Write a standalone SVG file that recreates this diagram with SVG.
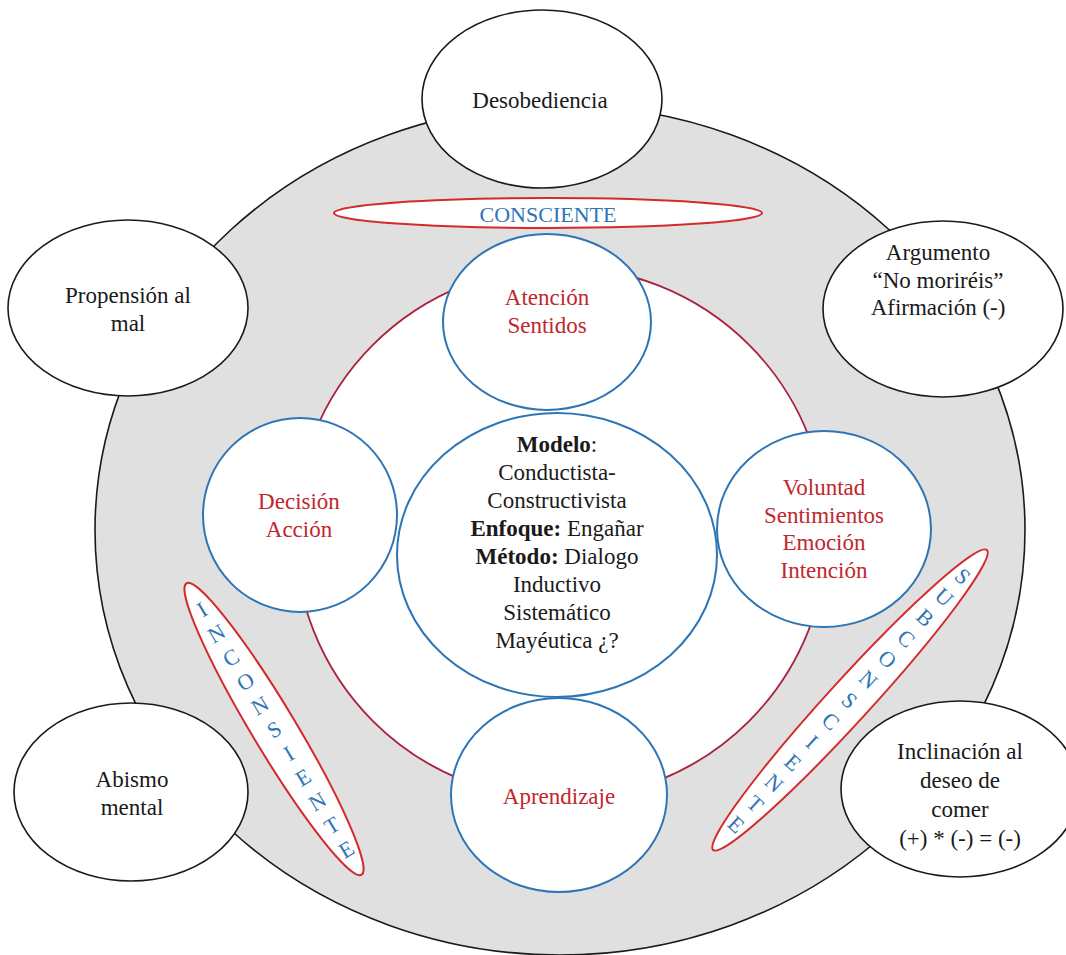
<svg xmlns="http://www.w3.org/2000/svg" width="1066" height="955" viewBox="0 0 1066 955">
<style>
.t{font-family:"Liberation Serif","Times New Roman",serif;font-size:23px;text-anchor:middle;fill:#1a1a1a}
.r{fill:#C0272D}
.b{fill:#2E75B6}
.blk{fill:#fff;stroke:#1a1a1a;stroke-width:1.6}
.blu{fill:#fff;stroke:#2E75B6;stroke-width:2}
.red{fill:#fff;stroke:#D42A2A;stroke-width:2}
.v{font-family:"Liberation Serif","Times New Roman",serif;font-size:22px;text-anchor:middle;fill:#2E75B6}
</style>
<rect width="1066" height="955" fill="#fff"/>
<g id="outer">
<ellipse cx="560" cy="530" rx="465" ry="425" fill="#E0E0E0" stroke="#1a1a1a" stroke-width="1.6"/>
</g>
<g id="inner-ring">
<circle cx="561" cy="533" r="266" fill="#fff" stroke="#A8223C" stroke-width="1.8"/>
</g>
<g id="desobediencia">
<ellipse class="blk" cx="542" cy="99" rx="120" ry="89"/>
<text class="t" x="540" y="108">Desobediencia</text>
</g>
<g id="propension">
<ellipse class="blk" cx="128" cy="308" rx="120" ry="88"/>
<text class="t" x="128" y="303">Propensión al</text>
<text class="t" x="128" y="331">mal</text>
</g>
<g id="argumento">
<ellipse class="blk" cx="943" cy="309" rx="120" ry="88"/>
<text class="t" x="938" y="260">Argumento</text>
<text class="t" x="938" y="288">“No moriréis”</text>
<text class="t" x="938" y="315">Afirmación (-)</text>
</g>
<g id="abismo">
<ellipse class="blk" cx="131" cy="792" rx="117" ry="89"/>
<text class="t" x="132" y="787">Abismo</text>
<text class="t" x="132" y="815">mental</text>
</g>
<g id="inclinacion">
<ellipse class="blk" cx="960" cy="789" rx="119" ry="88"/>
<text class="t" x="960" y="759">Inclinación al</text>
<text class="t" x="960" y="788">deseo de</text>
<text class="t" x="960" y="817">comer</text>
<text class="t" x="960" y="846">(+) * (-) = (-)</text>
</g>
<g id="consciente">
<ellipse class="red" cx="548" cy="213" rx="214" ry="15"/>
<text class="t b" x="548" y="222" style="font-size:22px">CONSCIENTE</text>
</g>
<g id="atencion">
<ellipse class="blu" cx="547" cy="322" rx="104" ry="88"/>
<text class="t r" x="547" y="305">Atención</text>
<text class="t r" x="547" y="333">Sentidos</text>
</g>
<g id="decision">
<ellipse class="blu" cx="300" cy="515" rx="97" ry="97"/>
<text class="t r" x="299" y="509">Decisión</text>
<text class="t r" x="299" y="537">Acción</text>
</g>
<g id="voluntad">
<ellipse class="blu" cx="824" cy="529" rx="107" ry="98"/>
<text class="t r" x="824" y="495">Voluntad</text>
<text class="t r" x="824" y="523">Sentimientos</text>
<text class="t r" x="824" y="550">Emoción</text>
<text class="t r" x="824" y="578">Intención</text>
</g>
<g id="aprendizaje">
<ellipse class="blu" cx="559" cy="795" rx="108" ry="97"/>
<text class="t r" x="559" y="804">Aprendizaje</text>
</g>
<g id="modelo">
<ellipse class="blu" cx="557" cy="555" rx="160" ry="142"/>
<text class="t" x="557" y="452"><tspan font-weight="bold">Modelo</tspan>:</text>
<text class="t" x="557" y="480">Conductista-</text>
<text class="t" x="557" y="508">Constructivista</text>
<text class="t" x="557" y="536"><tspan font-weight="bold">Enfoque:</tspan> Engañar</text>
<text class="t" x="557" y="564"><tspan font-weight="bold">Método:</tspan> Dialogo</text>
<text class="t" x="557" y="592">Inductivo</text>
<text class="t" x="557" y="620">Sistemático</text>
<text class="t" x="557" y="648">Mayéutica ¿?</text>
</g>
<g id="inconsiente" transform="rotate(-31 274 729)">
<ellipse class="red" cx="274" cy="729" rx="22" ry="170"/>
<text class="v" x="274" y="597">I</text>
<text class="v" x="274" y="625">N</text>
<text class="v" x="274" y="653">C</text>
<text class="v" x="274" y="681">O</text>
<text class="v" x="274" y="709">N</text>
<text class="v" x="274" y="737">S</text>
<text class="v" x="274" y="765">I</text>
<text class="v" x="274" y="793">E</text>
<text class="v" x="274" y="821">N</text>
<text class="v" x="274" y="849">T</text>
<text class="v" x="274" y="877">E</text>
</g>
<g id="subconsciente" transform="rotate(42.4 850 700)">
<ellipse class="red" cx="850" cy="700" rx="21" ry="203"/>
<text class="v" x="850" y="540">S</text>
<text class="v" x="850" y="568">U</text>
<text class="v" x="850" y="596">B</text>
<text class="v" x="850" y="624">C</text>
<text class="v" x="850" y="652">O</text>
<text class="v" x="850" y="680">N</text>
<text class="v" x="850" y="708">S</text>
<text class="v" x="850" y="736">C</text>
<text class="v" x="850" y="764">I</text>
<text class="v" x="850" y="792">E</text>
<text class="v" x="850" y="820">N</text>
<text class="v" x="850" y="848">T</text>
<text class="v" x="850" y="876">E</text>
</g>
<g id="connectors"></g>
</svg>
